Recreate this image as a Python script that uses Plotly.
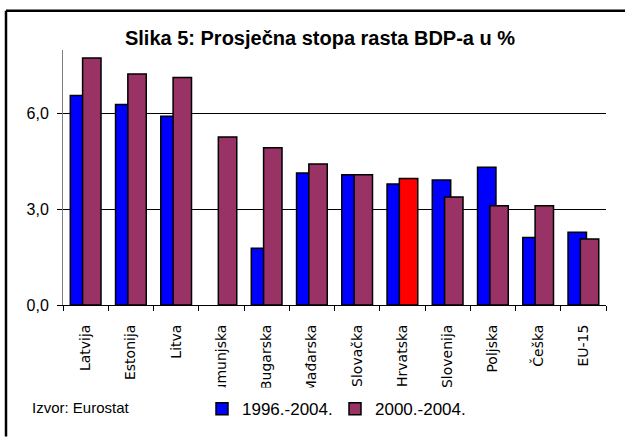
import plotly.graph_objects as go

categories = ["Latvija", "Estonija", "Litva", "Rumunjska", "Bugarska", "Mađarska",
              "Slovačka", "Hrvatska", "Slovenija", "Poljska", "Češka", "EU-15"]
s1996 = [6.57, 6.29, 5.92, None, 1.78, 4.14, 4.09, 3.80, 3.92, 4.32, 2.12, 2.28]
s2000 = [7.75, 7.25, 7.14, 5.27, 4.93, 4.42, 4.09, 3.97, 3.39, 3.11, 3.11, 2.07]
name1996 = "1996.-2004."
name2000 = "2000.-2004."
highlight = "Hrvatska"

W, H = 625, 439
L, R, T, B = 63, 606, 50, 310

def px(x):
    return (x - L) / (R - L)

def py(y):
    return (B - y) / (B - T)

colors2000 = ["#FF0000" if c == highlight else "#993366" for c in categories]

fig = go.Figure()
fig.add_trace(go.Bar(
    x=categories, y=s1996, name=name1996,
    marker=dict(color="#0000FF", line=dict(color="black", width=1.5)),
    width=0.407, offset=-0.339,
))
fig.add_trace(go.Bar(
    x=categories, y=s2000, name=name2000,
    marker=dict(color=colors2000, line=dict(color="black", width=1.5)),
    width=0.407, offset=-0.067,
))

shapes = [
    dict(type="rect", xref="paper", yref="paper", x0=px(-5), x1=px(W + 5), y0=py(394), y1=py(H + 5),
         fillcolor="white", line=dict(width=0), layer="above"),
    dict(type="line", xref="paper", yref="paper", x0=px(6), x1=px(W + 5), y0=py(10), y1=py(10),
         line=dict(color="black", width=2.5), layer="above"),
    dict(type="line", xref="paper", yref="paper", x0=px(6), x1=px(6), y0=py(10), y1=py(H + 5),
         line=dict(color="black", width=2.5), layer="above"),
]

fig.update_layout(
    width=W, height=H,
    margin=dict(l=L, r=W - R, t=T, b=H - B),
    paper_bgcolor="white", plot_bgcolor="white",
    barmode="overlay",
    separators=",.",
    font=dict(family="Arial, Liberation Sans, sans-serif", color="black"),
    title=dict(text="<b>Slika 5: Prosječna stopa rasta BDP-a u %</b>",
               x=px(320), xref="paper", xanchor="center",
               y=1 - 38 / H, yanchor="middle",
               font=dict(size=20, family="Arial, Liberation Sans, sans-serif", color="black")),
    xaxis=dict(
        type="category", tickson="boundaries", ticks="outside", ticklen=5,
        tickcolor="black", showline=True, linecolor="black", linewidth=1,
        tickangle=-90, ticklabelstandoff=13,
        tickfont=dict(size=14, family="DejaVu Sans, sans-serif", color="black"),
        showgrid=False, range=[-0.5, 11.5],
    ),
    yaxis=dict(
        range=[0, 8], tickvals=[0, 3, 6], tickformat=".1f",
        ticks="outside", ticklen=5, tickcolor="black",
        showline=True, linecolor="#808080", linewidth=1,
        showgrid=True, gridcolor="black", gridwidth=1,
        zeroline=False, ticklabelstandoff=5,
        tickfont=dict(size=16, color="black"),
    ),
    legend=dict(orientation="h", x=px(202), xanchor="left", y=py(398), yanchor="top",
                font=dict(size=17, color="black"), bgcolor="rgba(0,0,0,0)",
                itemwidth=30, entrywidth=88, tracegroupgap=0),
    shapes=shapes,
    annotations=[dict(text="Izvor: Eurostat", xref="paper", yref="paper",
                      x=px(30), y=py(414), xanchor="left", yanchor="middle",
                      showarrow=False, font=dict(size=15, color="black"))],
    showlegend=True,
)

fig.write_html("out.html", config={"displayModeBar": False},
               post_script="document.body.style.margin='0px';")
